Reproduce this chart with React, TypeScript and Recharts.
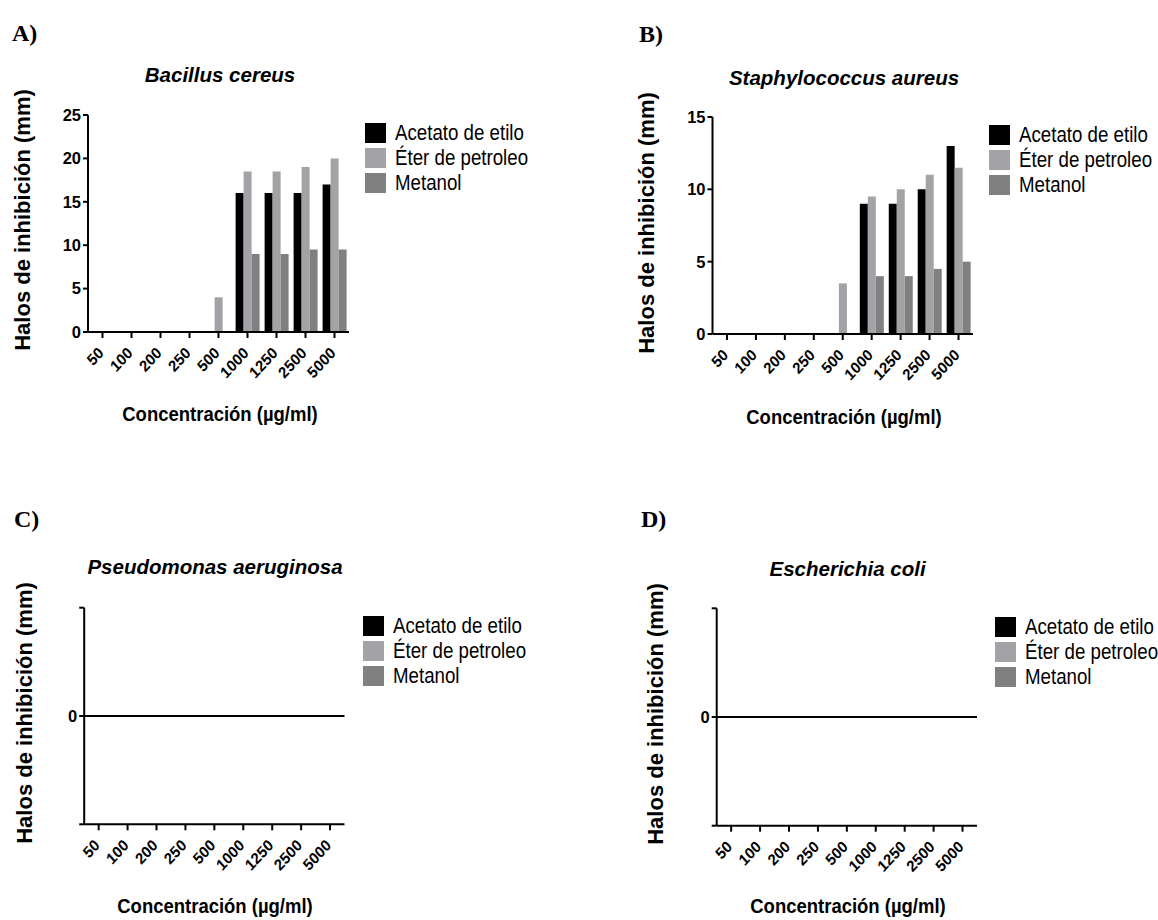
import React from 'react';
import { BarChart, Bar, XAxis, YAxis, Legend, ReferenceLine } from 'recharts';

// concentraciones (µg/ml)
const concentraciones = ['50', '100', '200', '250', '500', '1000', '1250', '2500', '5000'];

const seriesNames = ['Acetato de etilo', 'Éter de petroleo', 'Metanol'];

// A) Bacillus cereus
const bacillusAcetato = [0, 0, 0, 0, 0, 16, 16, 16, 17];
const bacillusEter = [0, 0, 0, 0, 4, 18.5, 18.5, 19, 20];
const bacillusMetanol = [0, 0, 0, 0, 0, 9, 9, 9.5, 9.5];

// B) Staphylococcus aureus
const staphAcetato = [0, 0, 0, 0, 0, 9, 9, 10, 13];
const staphEter = [0, 0, 0, 0, 3.5, 9.5, 10, 11, 11.5];
const staphMetanol = [0, 0, 0, 0, 0, 4, 4, 4.5, 5];

// C) Pseudomonas aeruginosa - sin halos
const pseudoAcetato = [0, 0, 0, 0, 0, 0, 0, 0, 0];
const pseudoEter = [0, 0, 0, 0, 0, 0, 0, 0, 0];
const pseudoMetanol = [0, 0, 0, 0, 0, 0, 0, 0, 0];

// D) Escherichia coli - sin halos
const ecoliAcetato = [0, 0, 0, 0, 0, 0, 0, 0, 0];
const ecoliEter = [0, 0, 0, 0, 0, 0, 0, 0, 0];
const ecoliMetanol = [0, 0, 0, 0, 0, 0, 0, 0, 0];

const SANS = '"Liberation Sans", Arial, sans-serif';
const SERIF = '"Liberation Serif", "Times New Roman", serif';
const COLORS = { acetato: '#000000', eter: '#a3a3a7', metanol: '#808080' };

const buildRows = (a: number[], e: number[], m: number[]) =>
  concentraciones.map((c, i) => ({ conc: c, acetato: a[i], eter: e[i], metanol: m[i] }));

const RotatedTick = (props: any) => {
  const { x, y, payload } = props;
  return (
    <g transform={`translate(${x + 2},${y + 14})`}>
      <text
        textAnchor="end"
        transform="scale(0.92,1) rotate(-45)"
        fontSize={16}
        fontWeight="bold"
        fontFamily={SANS}
        fill="#000"
      >
        {payload.value}
      </text>
    </g>
  );
};

const LegendBox = ({ payload }: any) => {
  const items = [...(payload || [])].sort(
    (p: any, q: any) => seriesNames.indexOf(p.value) - seriesNames.indexOf(q.value)
  );
  return (
    <div>
      {items.map((item: any) => (
        <div key={item.value} style={{ display: 'flex', alignItems: 'center', height: 25 }}>
          <span style={{ width: 21, height: 20, background: item.color, marginRight: 9, display: 'inline-block', flex: 'none' }} />
          <span
            style={{
              fontSize: 22,
              fontFamily: SANS,
              color: '#000',
              whiteSpace: 'nowrap',
              lineHeight: 1,
              display: 'inline-block',
              transform: 'scaleX(0.85)',
              transformOrigin: 'left center',
            }}
          >
            {item.value}
          </span>
        </div>
      ))}
    </div>
  );
};

interface PanelProps {
  rows: any[];
  domain: [number, number];
  ticks: number[];
  zeroLine?: boolean;
  box: { left: number; top: number };
  margin: { top: number; right: number; bottom: number; left: number };
  legend: { top: number; left: number };
}

function Panel({ rows, domain, ticks, zeroLine, box, margin, legend }: PanelProps) {
  const axisLine = { stroke: '#000', strokeWidth: 2 };
  return (
    <div style={{ position: 'absolute', left: box.left, top: box.top }}>
      <BarChart width={579} height={460} data={rows} margin={margin} barCategoryGap="9%" barGap={0}>
        <XAxis
          dataKey="conc"
          interval={0}
          height={30}
          tickSize={6}
          axisLine={axisLine}
          tickLine={axisLine}
          tick={<RotatedTick />}
        />
        <YAxis
          width={40}
          domain={domain}
          ticks={ticks}
          allowDataOverflow
          tickSize={5}
          tickMargin={2}
          axisLine={axisLine}
          tickLine={axisLine}
          tickFormatter={(v: number) => (zeroLine && v !== 0 ? '' : String(v))}
          tick={{ fontSize: 16.5, fontWeight: 'bold', fill: '#000', fontFamily: SANS }}
        />
        {zeroLine && <ReferenceLine y={0} stroke="#000" strokeWidth={2} />}
        <Bar dataKey="acetato" name={seriesNames[0]} fill={COLORS.acetato} isAnimationActive={false} />
        <Bar dataKey="eter" name={seriesNames[1]} fill={COLORS.eter} isAnimationActive={false} />
        <Bar dataKey="metanol" name={seriesNames[2]} fill={COLORS.metanol} isAnimationActive={false} />
        <Legend
          layout="horizontal"
          align="center"
          verticalAlign="middle"
          content={<LegendBox />}
          wrapperStyle={{ top: legend.top, left: legend.left, width: 'auto' }}
        />
      </BarChart>
    </div>
  );
}

const Txt = ({ x, y, size, children, style }: any) => (
  <div
    style={{
      position: 'absolute',
      left: x,
      top: y,
      fontSize: size,
      lineHeight: 1,
      whiteSpace: 'nowrap',
      color: '#000',
      fontFamily: SANS,
      ...style,
    }}
  >
    {children}
  </div>
);

const Letter = ({ x, y, children }: any) => (
  <Txt x={x} y={y} size={24} style={{ fontFamily: SERIF, fontWeight: 'bold' }}>
    {children}
  </Txt>
);

const Title = ({ x, y, children }: any) => (
  <Txt x={x} y={y} size={20.5} style={{ fontWeight: 'bold', fontStyle: 'italic', transform: 'translate(-50%,-50%)' }}>
    {children}
  </Txt>
);

const YTitle = ({ x, y }: any) => (
  <Txt x={x} y={y} size={22} style={{ fontWeight: 'bold', transform: 'translate(-50%,-50%) rotate(-90deg)' }}>
    Halos de inhibición (mm)
  </Txt>
);

const XTitle = ({ x, y }: any) => (
  <Txt x={x} y={y} size={21} style={{ fontWeight: 'bold', transform: 'translate(-50%,-50%) scaleX(0.88)' }}>
    Concentración (µg/ml)
  </Txt>
);

export default function App() {
  return (
    <div style={{ position: 'absolute', left: 0, top: 0, width: 1158, height: 920, background: '#fff', fontFamily: SANS }}>
      <Panel
        rows={buildRows(bacillusAcetato, bacillusEter, bacillusMetanol)}
        domain={[0, 25]}
        ticks={[0, 5, 10, 15, 20, 25]}
        box={{ left: 0, top: 0 }}
        margin={{ top: 115, right: 230, bottom: 98, left: 48 }}
        legend={{ top: 120.5, left: 365 }}
      />
      <Panel
        rows={buildRows(staphAcetato, staphEter, staphMetanol)}
        domain={[0, 15]}
        ticks={[0, 5, 10, 15]}
        box={{ left: 579, top: 0 }}
        margin={{ top: 117, right: 185, bottom: 96, left: 93.5 }}
        legend={{ top: 122.5, left: 409.5 }}
      />
      <Panel
        rows={buildRows(pseudoAcetato, pseudoEter, pseudoMetanol)}
        domain={[-1, 1]}
        ticks={[-1, 0, 1]}
        zeroLine
        box={{ left: 0, top: 460 }}
        margin={{ top: 147.7, right: 234.5, bottom: 65.7, left: 44.2 }}
        legend={{ top: 153.5, left: 363 }}
      />
      <Panel
        rows={buildRows(ecoliAcetato, ecoliEter, ecoliMetanol)}
        domain={[-1, 1]}
        ticks={[-1, 0, 1]}
        zeroLine
        box={{ left: 579, top: 460 }}
        margin={{ top: 148.3, right: 181, bottom: 64.3, left: 97.7 }}
        legend={{ top: 154.8, left: 416 }}
      />

      <Letter x={12} y={20.5}>A)</Letter>
      <Letter x={639} y={21.5}>B)</Letter>
      <Letter x={14} y={506.5}>C)</Letter>
      <Letter x={641} y={506.5}>D)</Letter>

      <Title x={220} y={75}>Bacillus cereus</Title>
      <Title x={844} y={78}>Staphylococcus aureus</Title>
      <Title x={215} y={567}>Pseudomonas aeruginosa</Title>
      <Title x={847.6} y={569}>Escherichia coli</Title>

      <YTitle x={23} y={220} />
      <YTitle x={646.7} y={223} />
      <YTitle x={25} y={713} />
      <YTitle x={656} y={714} />

      <XTitle x={220} y={413} />
      <XTitle x={844} y={416} />
      <XTitle x={215} y={905} />
      <XTitle x={847.6} y={905} />
    </div>
  );
}
